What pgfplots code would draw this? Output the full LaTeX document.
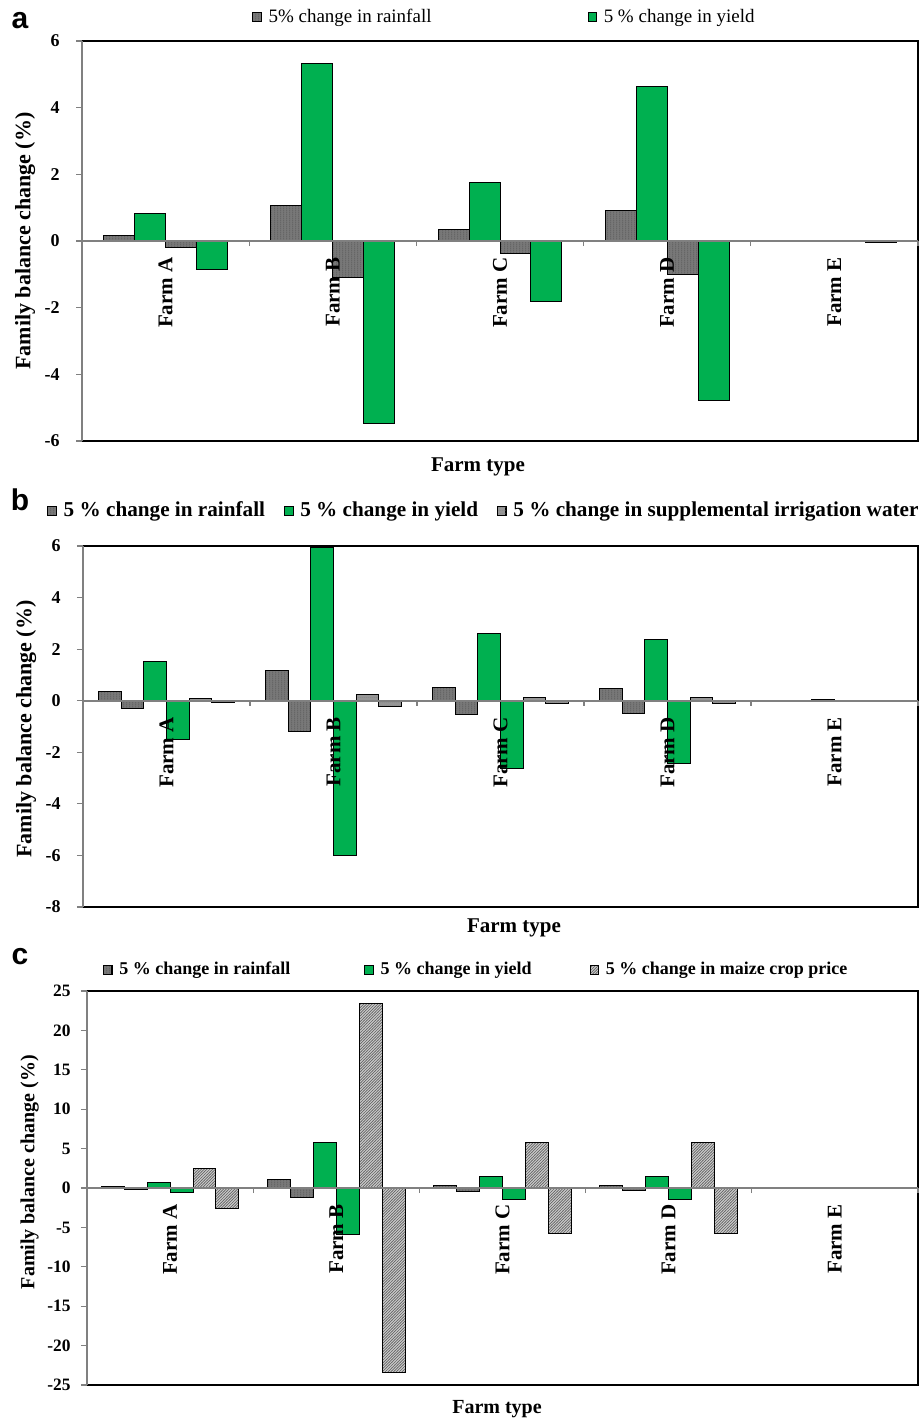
\documentclass[border=0pt]{standalone}
\usepackage{fontspec}
\setmainfont{Liberation Serif}
\newfontfamily\arialf{Liberation Sans}
\usepackage{pgfplots}
\pgfplotsset{compat=1.18}
\usetikzlibrary{patterns}

\definecolor{xgreen}{RGB}{0,176,80}
\definecolor{rgray}{RGB}{120,120,120}
\definecolor{igray}{RGB}{150,150,150}
\definecolor{pgray}{RGB}{205,205,205}

\pgfdeclarepatternformonly{fvert}{\pgfqpoint{0pt}{0pt}}{\pgfqpoint{1.4pt}{1pt}}{\pgfqpoint{1.4pt}{1pt}}%
{\pgfpathrectangle{\pgfqpoint{0pt}{0pt}}{\pgfqpoint{0.55pt}{1pt}}\pgfusepath{fill}}
\pgfdeclarepatternformonly{fhoriz}{\pgfqpoint{0pt}{0pt}}{\pgfqpoint{1pt}{1.2pt}}{\pgfqpoint{1pt}{1.2pt}}%
{\pgfpathrectangle{\pgfqpoint{0pt}{0pt}}{\pgfqpoint{1pt}{0.45pt}}\pgfusepath{fill}}
\pgfdeclarepatternformonly{fdiag}{\pgfqpoint{-0.2pt}{-0.2pt}}{\pgfqpoint{1.6pt}{1.6pt}}{\pgfqpoint{1.4pt}{1.4pt}}%
{\pgfsetlinewidth{0.35pt}\pgfpathqmoveto{-0.1pt}{-0.1pt}\pgfpathqlineto{1.5pt}{1.5pt}\pgfusepath{stroke}}

\pgfplotsset{
  rainb/.style={draw=black, line width=0.5pt, pattern=fvert, pattern color=black!60, preaction={fill=rgray}},
  yieldb/.style={draw=black, line width=0.5pt, fill=xgreen},
  irrb/.style={draw=black, line width=0.5pt, pattern=fhoriz, pattern color=black!45, preaction={fill=igray}},
  priceb/.style={draw=black, line width=0.5pt, pattern=fdiag, pattern color=black!60, preaction={fill=pgray}},
  panel/.style={
    scale only axis, anchor=north west, ybar, axis on top,
    axis x line=middle, axis y line=left,
    x axis line style={-, draw=gray, line width=0.8pt},
    y axis line style={-, draw=gray, line width=0.8pt},
    xmin=-0.5, xmax=4.5, xtick={0,...,4},
    xticklabels={Farm A,Farm B,Farm C,Farm D,Farm E},
    minor xtick={-0.5,0.5,...,4.5},
    major x tick style={draw=none},
    minor x tick style={draw=gray, line width=0.6pt},
    y tick style={draw=gray, line width=0.6pt},
    tick align=outside, major tick length=3pt, minor tick length=2.5pt,
    xticklabel style={rotate=90, anchor=east, inner sep=0pt, font=\fontsize{10.5}{12}\selectfont\bfseries},
    xticklabel shift=5pt,
    yticklabel style={font=\fontsize{9}{10}\selectfont\bfseries, inner sep=0pt},
    yticklabel shift=8pt,
    /pgf/number format/assume math mode=true,
    ylabel={Family balance change (\%)},
    ylabel style={anchor=center, font=\fontsize{11}{12}\selectfont\bfseries},
    legend style={draw=none, fill=none, legend columns=-1, anchor=west,
      legend cell align=left, inner sep=0pt,
      /tikz/every odd column/.append style={column sep=1.5pt}},
    area legend,
    legend image code/.code={\draw[#1, line width=0.4pt] (0pt,-2.3pt) rectangle (4.2pt,2.3pt);},
    clip=false,
  }
}

\begin{document}
\begin{tikzpicture}
\useasboundingbox (0,0) rectangle (459.5pt,-710.5pt);

% ---------------- panel a ----------------
\begin{axis}[panel, at={(41pt,-20.5pt)}, width=418pt, height=200pt,
  ymin=-6, ymax=6, ytick={-6,-4,...,6}, bar width=0.185,
  ylabel style={at={(axis description cs:-0.068,0.5)}},
  legend style={at={(axis description cs:0.2033,1.06)}, font=\fontsize{9.5}{11}\selectfont,
    /tikz/every even column/.append style={column sep=76pt}}]
\addplot[rainb, bar shift=-0.2775] coordinates {(0,0.18) (1,1.06) (2,0.36) (3,0.93) (4,0.01)};
\addlegendentry{5\% change in rainfall}
\addplot[yieldb, bar shift=-0.0925] coordinates {(0,0.84) (1,5.32) (2,1.77) (3,4.64) (4,0.02)};
\addlegendentry{5 \% change in yield}
\addplot[rainb, bar shift=0.0925, forget plot] coordinates {(0,-0.18) (1,-1.10) (2,-0.37) (3,-0.99) (4,-0.01)};
\addplot[yieldb, bar shift=0.2775, forget plot] coordinates {(0,-0.84) (1,-5.48) (2,-1.80) (3,-4.79) (4,-0.03)};
\draw[black, line width=0.8pt] (rel axis cs:0,0) -- (rel axis cs:1,0) -- (rel axis cs:1,1) -- (rel axis cs:0,1);
\end{axis}
\node[font=\arialf\bfseries\fontsize{15}{16}\selectfont] at (10pt,-10.5pt) {a};
\node[font=\fontsize{10.5}{12}\selectfont\bfseries] at (239pt,-233.5pt) {Farm type};

% ---------------- panel b ----------------
\begin{axis}[panel, at={(41.5pt,-273pt)}, width=417.5pt, height=180.5pt,
  ymin=-8, ymax=6, ytick={-8,-6,...,6}, bar width=0.135,
  ylabel style={at={(axis description cs:-0.068,0.493)}},
  legend style={at={(axis description cs:-0.043,1.097)}, font=\fontsize{10.6}{12}\selectfont\bfseries,
    /tikz/every even column/.append style={column sep=7.5pt}}]
\addplot[rainb, bar shift=-0.3375] coordinates {(0,0.34) (1,1.19) (2,0.53) (3,0.49) (4,0.02)};
\addlegendentry{5 \% change in rainfall}
\addplot[rainb, bar shift=-0.2025, forget plot] coordinates {(0,-0.30) (1,-1.19) (2,-0.52) (3,-0.48) (4,-0.02)};
\addplot[yieldb, bar shift=-0.0675] coordinates {(0,1.51) (1,5.93) (2,2.60) (3,2.36) (4,0.03)};
\addlegendentry{5 \% change in yield}
\addplot[yieldb, bar shift=0.0675, forget plot] coordinates {(0,-1.51) (1,-6.02) (2,-2.61) (3,-2.42) (4,-0.02)};
\addplot[irrb, bar shift=0.2025] coordinates {(0,0.08) (1,0.26) (2,0.11) (3,0.12) (4,0.02)};
\addlegendentry{5 \% change in supplemental irrigation water}
\addplot[irrb, bar shift=0.3375, forget plot] coordinates {(0,-0.05) (1,-0.24) (2,-0.10) (3,-0.09) (4,-0.01)};
\draw[black, line width=0.8pt] (rel axis cs:0,0) -- (rel axis cs:1,0) -- (rel axis cs:1,1) -- (rel axis cs:0,1);
\end{axis}
\node[font=\arialf\bfseries\fontsize{15}{16}\selectfont] at (10pt,-250pt) {b};
\node[font=\fontsize{10.5}{12}\selectfont\bfseries] at (257pt,-464pt) {Farm type};

% ---------------- panel c ----------------
\begin{axis}[panel, at={(43.5pt,-495.5pt)}, width=415.5pt, height=197pt,
  ymin=-25, ymax=25, ytick={-25,-20,...,25}, bar width=0.138,
  yticklabel shift=5pt,
  yticklabel style={font=\fontsize{8.7}{10}\selectfont\bfseries},
  ylabel style={at={(axis description cs:-0.069,0.54)}, font=\fontsize{10}{12}\selectfont\bfseries},
  legend style={at={(axis description cs:0.019,1.053)}, font=\fontsize{9}{11}\selectfont\bfseries,
    /tikz/column 2/.append style={column sep=35pt},
    /tikz/column 4/.append style={column sep=27pt}}]
\addplot[rainb, bar shift=-0.345] coordinates {(0,0.25) (1,1.14) (2,0.34) (3,0.30) (4,0)};
\addlegendentry{5 \% change in rainfall}
\addplot[rainb, bar shift=-0.207, forget plot] coordinates {(0,-0.17) (1,-1.22) (2,-0.38) (3,-0.35) (4,0)};
\addplot[yieldb, bar shift=-0.069] coordinates {(0,0.68) (1,5.80) (2,1.48) (3,1.45) (4,0)};
\addlegendentry{5 \% change in yield}
\addplot[yieldb, bar shift=0.069, forget plot] coordinates {(0,-0.63) (1,-5.90) (2,-1.47) (3,-1.45) (4,0)};
\addplot[priceb, bar shift=0.207] coordinates {(0,2.50) (1,23.40) (2,5.80) (3,5.75) (4,0)};
\addlegendentry{5 \% change in maize crop price}
\addplot[priceb, bar shift=0.345, forget plot] coordinates {(0,-2.54) (1,-23.40) (2,-5.80) (3,-5.80) (4,0)};
\draw[black, line width=0.8pt] (rel axis cs:0,0) -- (rel axis cs:1,0) -- (rel axis cs:1,1) -- (rel axis cs:0,1);
\end{axis}
\node[font=\arialf\bfseries\fontsize{15}{16}\selectfont] at (10pt,-478.5pt) {c};
\node[font=\fontsize{10}{12}\selectfont\bfseries] at (248.5pt,-704.5pt) {Farm type};
\end{tikzpicture}
\end{document}
